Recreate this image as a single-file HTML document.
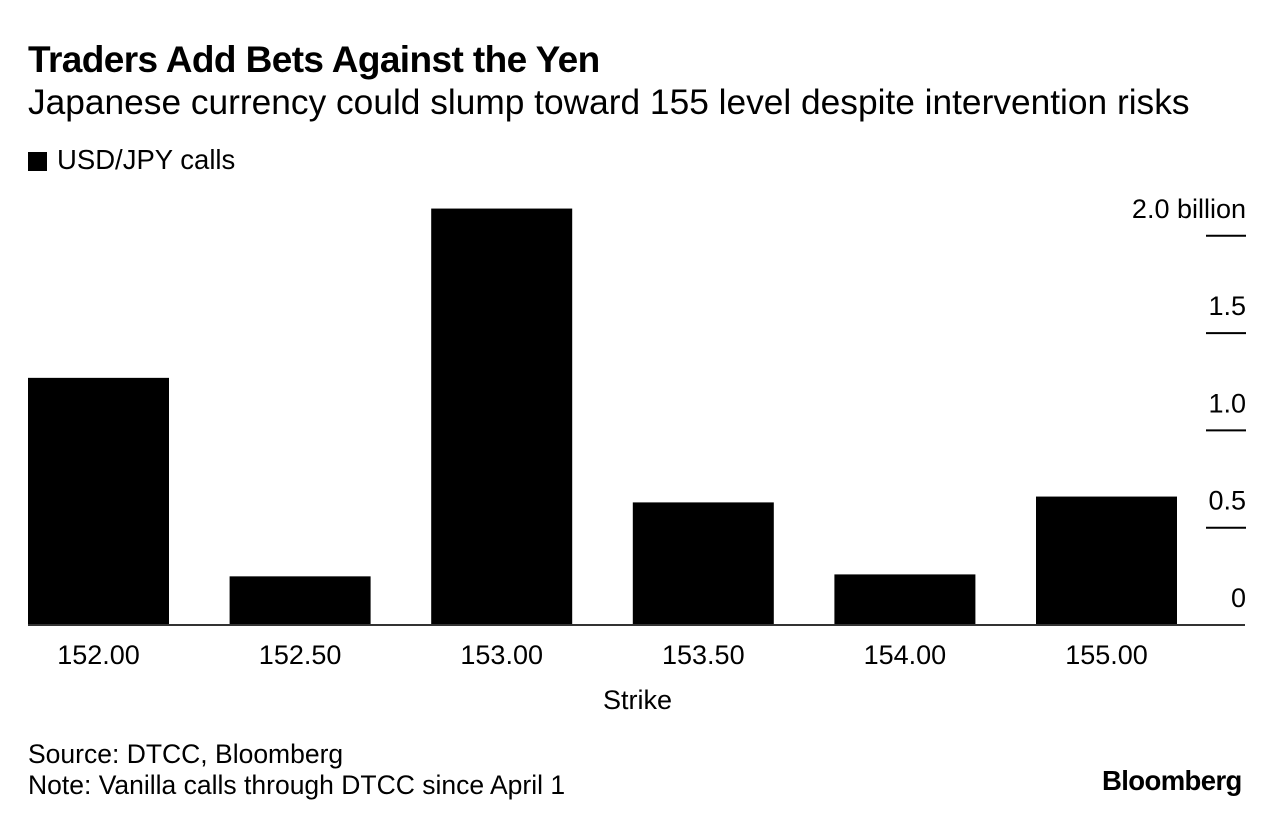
<!DOCTYPE html>
<html><head><meta charset="utf-8"><style>
body{margin:0;width:1280px;height:826px;background:#fff;font-family:"Liberation Sans",sans-serif;color:#000;overflow:hidden;position:relative}
.t{position:absolute;white-space:nowrap}
</style></head><body>
<div class="t" style="left:28px;top:39px;font-size:37px;font-weight:bold;letter-spacing:-0.6px">Traders Add Bets Against the Yen</div>
<div class="t" style="left:28px;top:83px;font-size:35.3px">Japanese currency could slump toward 155 level despite intervention risks</div>
<div class="t" style="left:28px;top:144px;font-size:27.5px"><span style="display:inline-block;width:19px;height:19px;background:#000;margin-right:10px;vertical-align:-2px"></span>USD/JPY calls</div>
<svg id="chart" width="1280" height="826" style="position:absolute;left:0;top:0"></svg>
<div class="t" style="left:603px;top:685px;font-size:27px">Strike</div>
<div class="t" style="left:28px;top:739px;font-size:26.5px;line-height:31px">Source: DTCC, Bloomberg<br>Note: Vanilla calls through DTCC since April 1</div>
<div class="t" style="left:1102px;top:765px;font-size:27.5px;font-weight:bold;letter-spacing:-0.6px">Bloomberg</div>
<script>
const categories=["152.00","152.50","153.00","153.50","154.00","155.00"];
const values=[1.27,0.25,2.14,0.63,0.26,0.66];
const ticks=[0,0.5,1.0,1.5,2.0];
const tickLabels=["0","0.5","1.0","1.5","2.0 billion"];
const svg=document.getElementById('chart');
const NS="http://www.w3.org/2000/svg";
const y0=625,pxPer=194.6;
const y=v=>y0-v*pxPer;
const bandX=i=>28+i*201.6;
function mk(t,a){const e=document.createElementNS(NS,t);for(const k in a)e.setAttribute(k,a[k]);svg.appendChild(e);return e;}
values.forEach((v,i)=>{
 const r=mk('rect',{x:bandX(i),y:y(v),width:141,height:y0-y(v),fill:'#000'});
 
 
 const t=mk('text',{x:bandX(i)+70.5,y:664,'font-size':27,'text-anchor':'middle','font-family':'Liberation Sans'});
 t.textContent=categories[i];
 
 
});
ticks.forEach((v,i)=>{
 if(v>0){const l=mk('line',{x1:1206,x2:1246,y1:y(v),y2:y(v),stroke:'#000','stroke-width':2});
 
 }
 const t=mk('text',{x:1246,y:y(v)-18,'font-size':27,'text-anchor':'end','font-family':'Liberation Sans'});
 t.textContent=tickLabels[i];
 
 
});
const ax=mk('line',{x1:28,x2:1245,y1:y0,y2:y0,stroke:'#333','stroke-width':2});


</script>
</body></html>
